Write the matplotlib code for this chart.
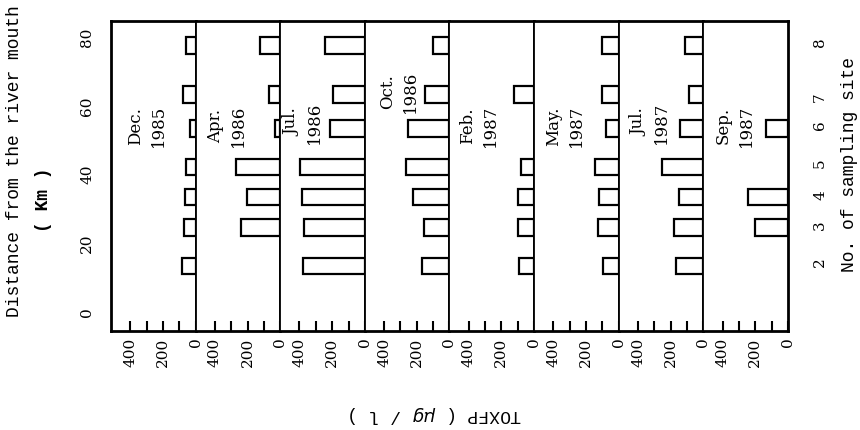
import matplotlib
matplotlib.use("Agg")
import matplotlib.pyplot as plt
import numpy as np

nan = np.nan

# sampling sites and their distance from the river mouth (km)
SITES = [2, 3, 4, 5, 6, 7, 8]
SITE_KM = [13.1, 24.2, 33.2, 41.9, 53.2, 63.0, 77.2]
SITE_LABEL_KM = [14.6, 25.3, 34.0, 43.3, 54.4, 62.6, 78.6]

MONTHS = ["Dec.", "Apr.", "Jul.", "Oct.", "Feb.", "May.", "Jul.", "Sep."]
YEARS = ["1985", "1986", "1986", "1986", "1987", "1987", "1987", "1987"]

# TOXFP (ug/l) for sites 2..8
DEC_1985 = [84, 69, 64, 59, 36, 79, 61]
APR_1986 = [nan, 240, 202, 273, 30, 70, 125]
JUL_1986 = [380, 370, 384, 398, 216, 196, 246]
OCT_1986 = [167, 153, 224, 264, 252, 152, 101]
FEB_1987 = [93, 97, 97, 81, nan, 123, nan]
MAY_1987 = [95, 127, 121, 145, 81, 101, 101]
JUL_1987 = [168, 182, 148, 253, 145, 91, 111]
SEP_1987 = [nan, 202, 242, nan, 135, nan, nan]

SERIES = [DEC_1985, APR_1986, JUL_1986, OCT_1986,
          FEB_1987, MAY_1987, JUL_1987, SEP_1987]

# where the month/year caption sits in each panel (x fraction, km)
CAPTION_POS = [(0.43, 48), (0.37, 48), (0.27, 49), (0.40, 58),
               (0.35, 48), (0.37, 48), (0.37, 49), (0.37, 48)]

SERIF = "DejaVu Serif"
MONO = "Liberation Mono"

fig, axes = plt.subplots(1, 8, figsize=(8.6, 4.31), dpi=100, sharey=True)
fig.subplots_adjust(left=0.129, right=0.9163, top=0.949, bottom=0.2297,
                    wspace=0)

for i, (ax, vals) in enumerate(zip(axes, SERIES)):
    ax.barh(SITE_KM, vals, height=4.9, left=0, color="white",
            edgecolor="black", linewidth=1.6, zorder=3)
    ax.set_xlim(518, 0)
    ax.set_ylim(-5.8, 84.4)
    ax.set_xticks([0, 200, 400])
    ax.set_xticks([100, 300], minor=True)
    ax.tick_params(axis="x", which="both", direction="in", length=7,
                   width=1.5, pad=4)
    ax.tick_params(axis="y", length=0)
    for lab in ax.get_xticklabels():
        lab.set_rotation(90)
        lab.set_fontfamily(SERIF)
        lab.set_fontsize(11)
    for side, sp in ax.spines.items():
        sp.set_linewidth(2.0 if side in ("top", "bottom") else 1.3)
    xf, ykm = CAPTION_POS[i]
    ax.text(xf, ykm, f"{MONTHS[i]}\n{YEARS[i]}",
            transform=ax.get_yaxis_transform(), rotation=90,
            ha="center", va="bottom", multialignment="center",
            fontsize=12, family=SERIF, linespacing=1.45)

axes[0].spines["left"].set_linewidth(2.0)
axes[-1].spines["right"].set_linewidth(2.0)

axes[0].set_yticks([0, 20, 40, 60, 80])
for lab in axes[0].get_yticklabels():
    lab.set_rotation(90)
    lab.set_va("center")
    lab.set_fontfamily(SERIF)
    lab.set_fontsize(11)
axes[0].tick_params(axis="y", pad=12)

# sampling site numbers on the right
twin = axes[-1].twinx()
twin.set_ylim(axes[-1].get_ylim())
twin.set_yticks(SITE_LABEL_KM)
twin.set_yticklabels([str(s) for s in SITES], rotation=90, va="center",
                     family=SERIF, fontsize=11)
twin.tick_params(axis="y", length=0, pad=18)
for sp in twin.spines.values():
    sp.set_visible(False)

fig.text(15 / 860, 1 - 161 / 431, "Distance from the river mouth",
         rotation=90, ha="center", va="center", family=MONO, fontsize=13)
fig.text(43 / 860, 1 - 200 / 431, "( Km )",
         rotation=90, ha="center", va="center", family=MONO, fontsize=13,
         fontweight="bold")
fig.text(849 / 860, 1 - 165 / 431, "No. of sampling site",
         rotation=90, ha="center", va="center", family=MONO, fontsize=13)
fig.text(435 / 860, 1 - 414 / 431, "TOXFP ( $\\mu g$ / l )",
         rotation=180, ha="center", va="center", family=MONO, fontsize=13)

plt.savefig("out.png", dpi=100)
plt.close()
